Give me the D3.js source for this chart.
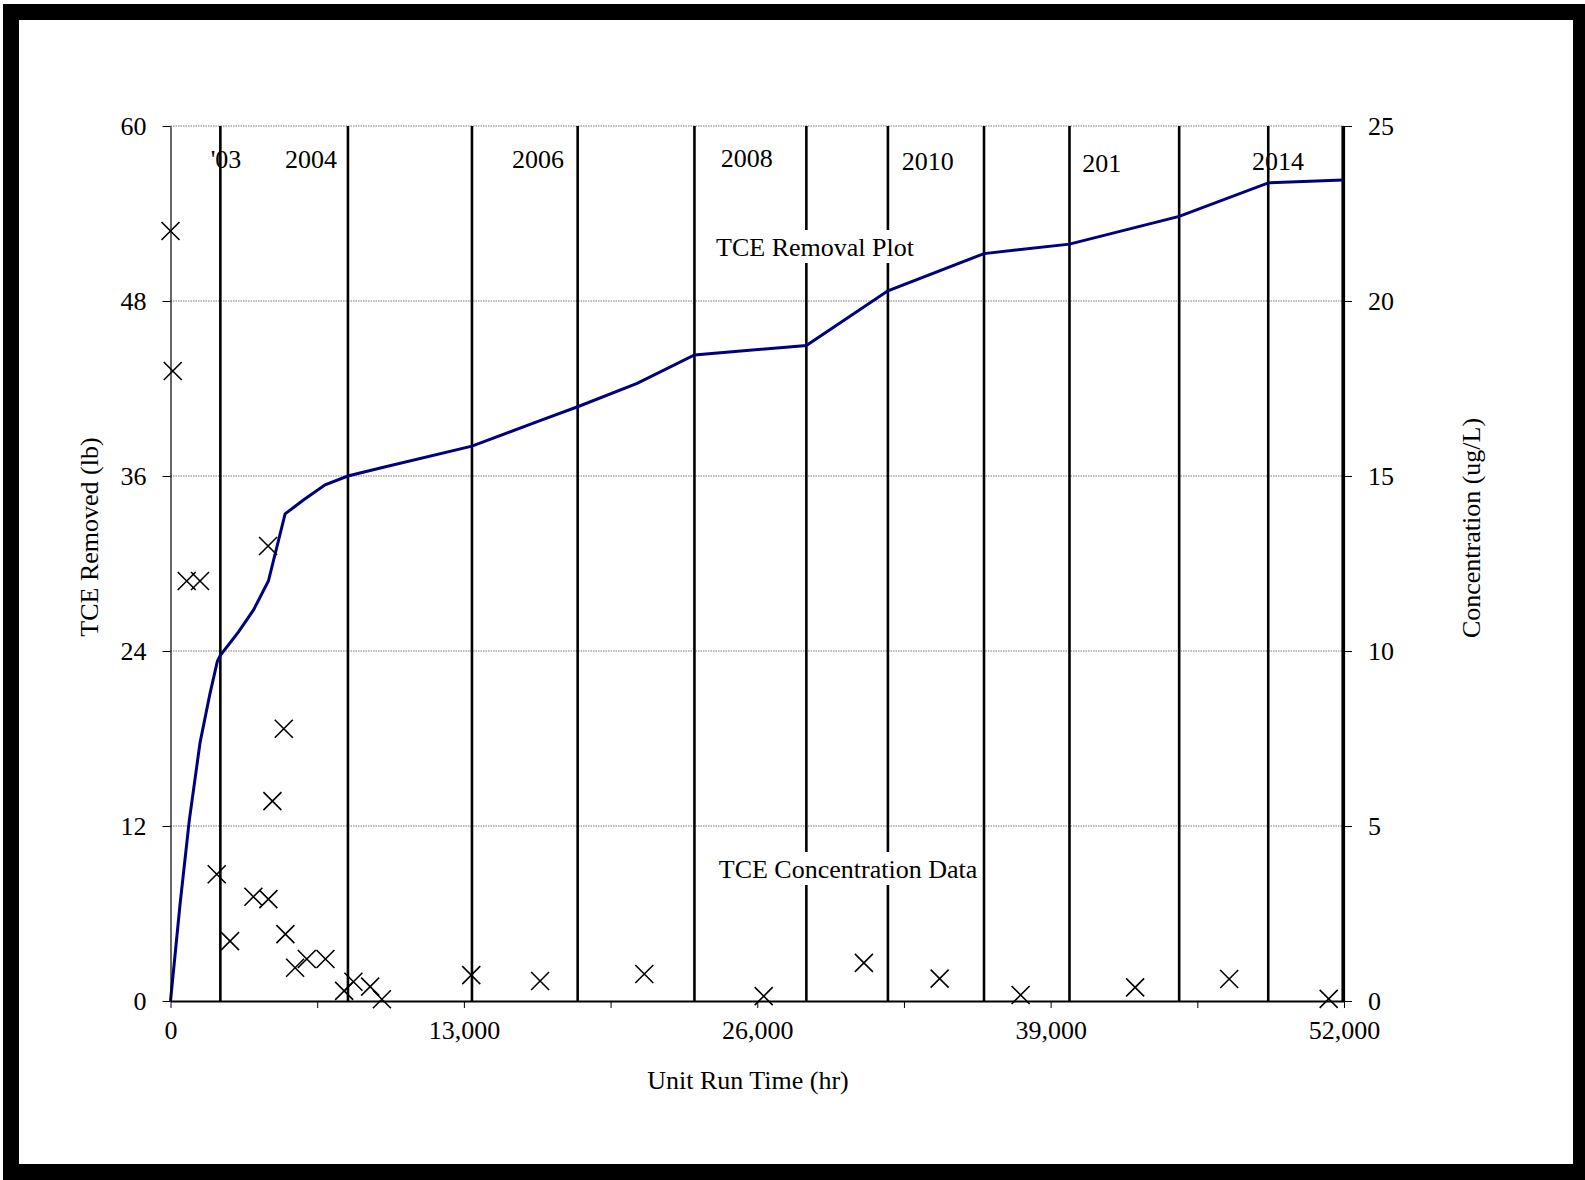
<!DOCTYPE html>
<html lang="en">
<head>
  <meta charset="UTF-8">
  <title>TCE Removal Plot</title>
  <script src="https://d3js.org/d3.v7.min.js"></script>
  <style>
    body { margin: 0; background: #fff; }
    text { font-family: "Liberation Serif", "Times New Roman", serif; font-size: 26px; fill: #000; }
    .grid { stroke: #7a7a7a; stroke-width: 1.2; stroke-dasharray: 1.5,1; }
    .year-line { stroke: #000; stroke-width: 2.6; }
    .removal { fill: none; stroke: #00007f; stroke-width: 3; }
    .marker { fill: none; stroke: #000; stroke-width: 1.6; }
    .axis text { font-family: "Liberation Serif", "Times New Roman", serif; font-size: 26px; }
    .axis line { stroke: #000; }
  </style>
</head>
<body>
  <div id="chart"></div>

  <script>
    // cumulative TCE removed (lb) vs unit run time (hr)
    const runTime   = [0, 421, 834, 1308, 1752, 2077, 2209, 3006, 3673, 4338, 5078, 5890, 6852, 7858, 9438,
                       13357, 16462, 18042, 20676, 23218, 28176, 31790, 36048, 39836, 44697, 48643, 51960];
    const removedLb = [0, 6.6, 12.4, 17.7, 21.1, 23.3, 23.7, 25.3, 26.8, 28.8, 33.4, 34.35, 35.4, 36.0, 36.6,
                       38.05, 39.85, 40.75, 42.35, 44.3, 44.95, 48.7, 51.25, 51.9, 53.8, 56.1, 56.3];

    // TCE concentration samples (ug/L)
    const sampleTime = [0, 100, 718, 1308, 2049, 2639, 3673, 4338, 4324, 4516, 5020, 5092, 5522, 6040, 6866,
                        7695, 8107, 8848, 9367, 13327, 16378, 20995, 26286, 30725, 34082, 37670, 42745, 46913, 51322];
    const sampleConc = [22.0, 18.0, 12.0, 12.0, 3.62, 1.71, 2.98, 2.91, 13.0, 5.71, 7.78, 1.91, 0.95, 1.2, 1.2,
                        0.29, 0.55, 0.41, 0.05, 0.74, 0.57, 0.77, 0.14, 1.09, 0.64, 0.17, 0.39, 0.63, 0.06];

    // year boundaries and labels
    const yearLines  = [2209, 7863, 13358, 18042, 23217, 28176, 31790, 36048, 39835, 44696, 48643, 51943];
    const yearLabels = ["'03", "2004", "2006", "2008", "2010", "201", "2014"];
    const yearLabelX = [2459, 6224, 16280, 25540, 33560, 41270, 49070];
    const yearLabelY = [57.12, 57.12, 57.12, 57.19, 56.98, 56.85, 56.98];

    const xTicks     = d3.range(0, 52001, 6500);
    const leftTicks  = [0, 12, 24, 36, 48, 60];
    const rightTicks = [0, 5, 10, 15, 20, 25];

    const W = 1585, H = 1180;
    const plot = { left: 170.5, right: 1344, top: 126, bottom: 1001 };

    const svg = d3.select("#chart")
                  .append("svg")
                  .attr("width", W)
                  .attr("height", H);

    // outer frame
    svg.append("rect").attr("x", 3).attr("y", 4).attr("width", W - 3).attr("height", H - 4).attr("fill", "#000");
    svg.append("rect").attr("x", 19).attr("y", 20).attr("width", 1554).attr("height", 1144).attr("fill", "#fff");

    const x = d3.scaleLinear().domain([0, 52000]).range([plot.left, plot.right]);
    const yL = d3.scaleLinear().domain([0, 60]).range([plot.bottom, plot.top]);
    const yR = d3.scaleLinear().domain([0, 25]).range([plot.bottom, plot.top]);

    // dotted gridlines
    svg.selectAll(".grid")
       .data(leftTicks.filter(d => d > 0))
       .enter()
       .append("line")
       .attr("class", "grid")
       .attr("x1", plot.left)
       .attr("x2", plot.right)
       .attr("y1", d => yL(d))
       .attr("y2", d => yL(d));

    // year separators
    svg.selectAll(".year-line")
       .data(yearLines)
       .enter()
       .append("line")
       .attr("class", "year-line")
       .attr("x1", d => x(d))
       .attr("x2", d => x(d))
       .attr("y1", yL(0))
       .attr("y2", yL(60));

    svg.selectAll(".year-label")
       .data(yearLabels)
       .enter()
       .append("text")
       .attr("class", "year-label")
       .attr("text-anchor", "middle")
       .attr("x", (d, i) => x(yearLabelX[i]))
       .attr("y", (d, i) => yL(yearLabelY[i]))
       .text(d => d);

    // labels with a white box behind them
    function boxedLabel(txt, cx, cy) {
      const g = svg.append("g");
      const t = g.append("text")
                 .attr("text-anchor", "middle")
                 .attr("x", cx)
                 .attr("y", cy)
                 .text(txt);
      const b = t.node().getBBox();
      g.insert("rect", "text")
       .attr("x", b.x - 2)
       .attr("y", b.y - 3)
       .attr("width", b.width + 4)
       .attr("height", b.height + 4)
       .attr("fill", "#fff");
    }
    boxedLabel("TCE Removal Plot", 815, 256);
    boxedLabel("TCE Concentration Data", 848, 878);

    // removal curve
    const line = d3.line()
                   .x((d, i) => x(runTime[i]))
                   .y(d => yL(d));
    svg.append("path")
       .attr("class", "removal")
       .attr("d", line(removedLb));

    // axes
    const xAxis = svg.append("g")
       .attr("class", "axis")
       .attr("transform", `translate(0,${plot.bottom})`)
       .call(d3.axisBottom(x)
               .tickValues(xTicks)
               .tickSize(7)
               .tickSizeOuter(0)
               .tickPadding(13)
               .tickFormat(d => d % 13000 === 0 ? d3.format(",")(d) : ""));
    xAxis.select(".domain").attr("stroke", "#000").attr("stroke-width", 2);

    const leftAxis = svg.append("g")
       .attr("class", "axis")
       .attr("transform", `translate(${plot.left},0)`)
       .call(d3.axisLeft(yL).tickValues(leftTicks).tickSize(8).tickSizeOuter(0).tickPadding(16));
    leftAxis.select(".domain").attr("stroke", "#000").attr("stroke-width", 1.2);

    const rightAxis = svg.append("g")
       .attr("class", "axis")
       .attr("transform", `translate(${plot.right},0)`)
       .call(d3.axisRight(yR).tickValues(rightTicks).tickSize(8).tickSizeOuter(0).tickPadding(16));
    rightAxis.select(".domain").attr("stroke", "#000").attr("stroke-width", 1.2);

    svg.selectAll(".axis text").attr("fill", "#000");

    // concentration markers
    svg.selectAll(".marker")
       .data(sampleConc)
       .enter()
       .append("path")
       .attr("class", "marker")
       .attr("transform", (d, i) => `translate(${x(sampleTime[i])},${yR(d)})`)
       .attr("d", "M-9,-9L9,9M-9,9L9,-9");

    // axis titles
    svg.append("text")
       .attr("text-anchor", "middle")
       .attr("x", 748)
       .attr("y", 1089)
       .text("Unit Run Time (hr)");

    svg.append("text")
       .attr("text-anchor", "middle")
       .attr("transform", "translate(98,537) rotate(-90)")
       .text("TCE Removed (lb)");

    svg.append("text")
       .attr("text-anchor", "middle")
       .attr("transform", "translate(1480,528) rotate(-90)")
       .text("Concentration (ug/L)");
  </script>
</body>
</html>
